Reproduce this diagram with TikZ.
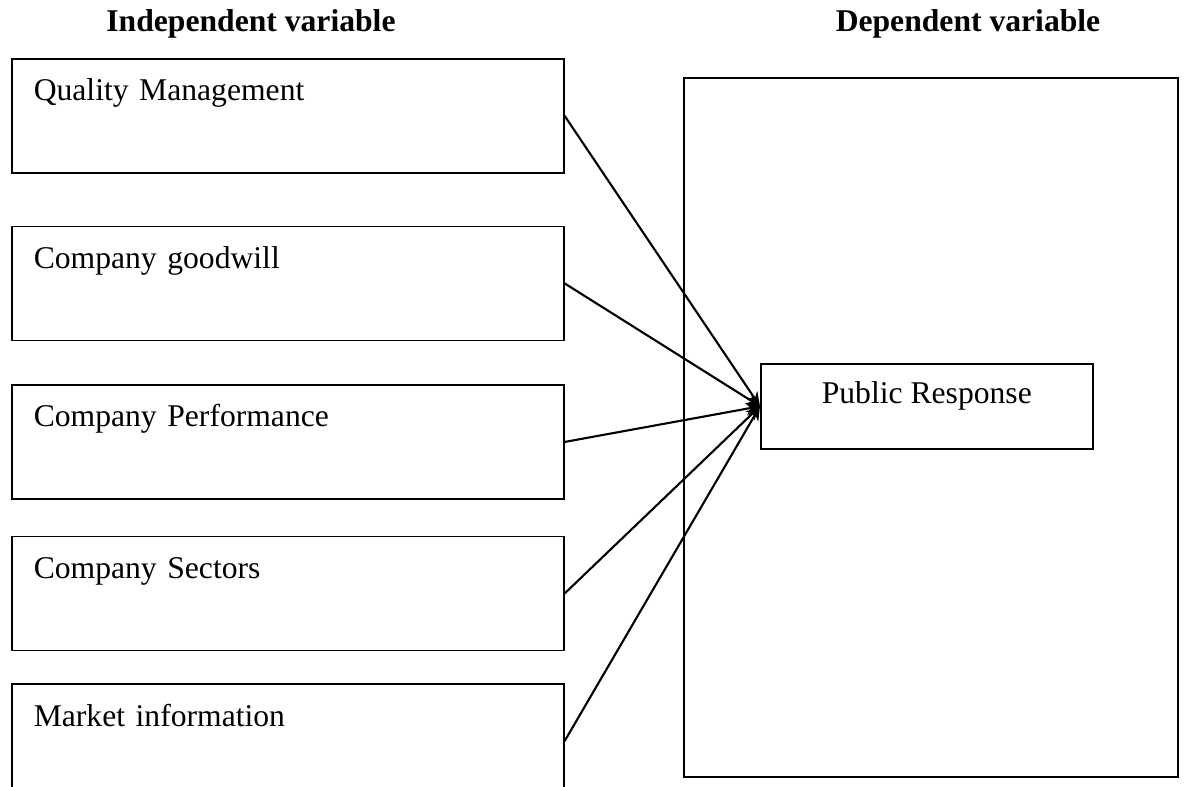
\documentclass[tikz,border=0pt]{standalone}
\usepackage{fontspec}
\setmainfont{Liberation Serif}
\usepackage{tikz}
\usetikzlibrary{arrows.meta,positioning}
\tikzset{
  ivblock/.style = {rectangle, draw=black, line width=0.9pt,
                    minimum width=11.04cm, text width=10.16cm, align=left,
                    inner xsep=0.44cm, inner ysep=0pt,
                    text height=0.84cm, text depth=1.44cm},
  dvframe/.style = {rectangle, draw=black, line width=1.3pt,
                    minimum width=9.88cm, minimum height=13.98cm},
  dvblock/.style = {rectangle, draw=black, line width=0.9pt,
                    minimum width=6.64cm, align=center, inner ysep=0pt,
                    text height=0.8cm, text depth=0.9cm},
  heading/.style = {font=\fontsize{18}{21.6}\selectfont\bfseries, anchor=base},
  arr/.style     = {-{Stealth[length=8pt,width=7pt]}, line width=1.2pt},
}
\begin{document}
\begin{tikzpicture}[font=\fontsize{18}{21.6}\selectfont]
\useasboundingbox (0,0) rectangle (24.04,-15.74);

%% Headings
\node[heading] (ihead) at (5.02,-0.64)  {Independent variable};
\node[heading] (dhead) at (19.36,-0.64) {Dependent variable};

%% Independent variables
\node[ivblock, anchor=north west] (qm) at (0.22,-1.16) {Quality Management};
\node[ivblock, below=1.04cm of qm] (cg) {Company goodwill};
\node[ivblock, below=0.86cm of cg] (cp) {Company Performance};
\node[ivblock, below=0.72cm of cp] (cs) {Company Sectors};
\node[ivblock, below=0.64cm of cs] (mi) {Market information};

%% Dependent variable
\node[dvframe, anchor=north west] (frame) at (13.66,-1.54) {};
\node[dvblock, anchor=north west] (pr) at (15.2,-7.26) {Public Response};

%% Arrows
\foreach \src in {qm,cg,cp,cs,mi}
  \draw[arr] (\src.east) -- (pr.west);

\end{tikzpicture}
\end{document}
